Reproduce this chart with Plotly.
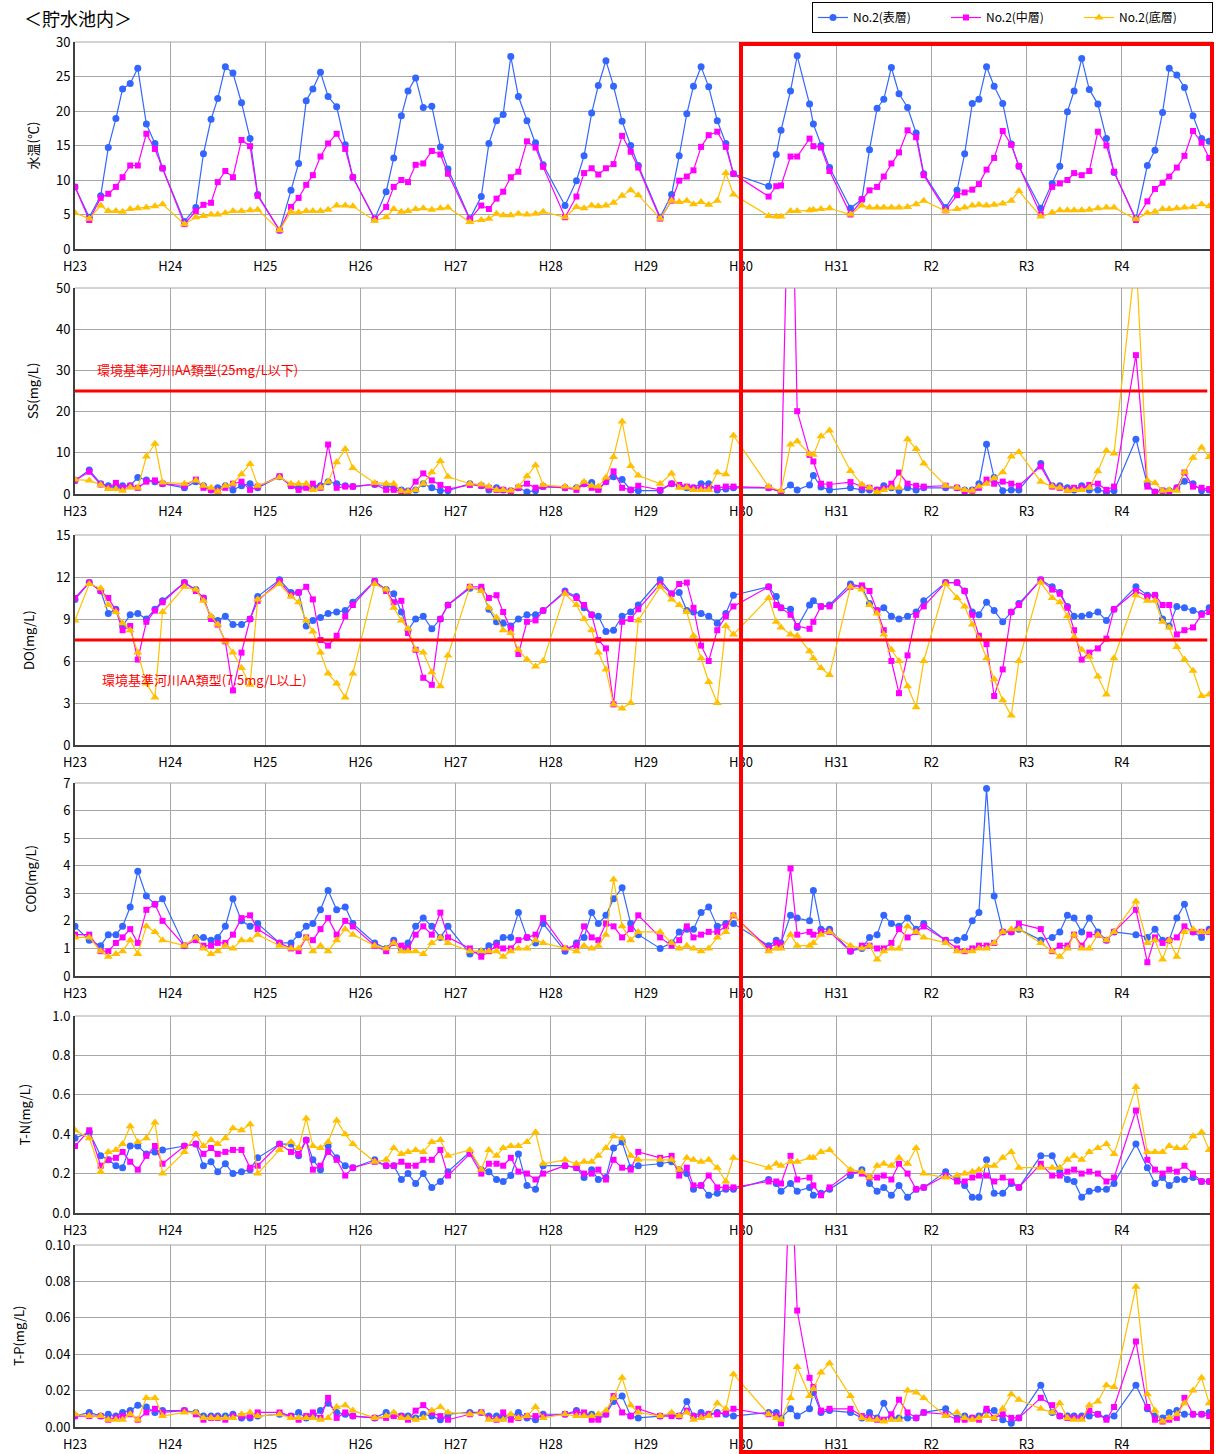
import plotly.graph_objects as go

FONT = "Noto Sans CJK JP"
YEAR_LABELS = ["H23", "H24", "H25", "H26", "H27", "H28", "H29", "H30", "H31", "R2", "R3", "R4"]
FRACS = [0.15, 0.27, 0.35, 0.43, 0.50, 0.58, 0.66, 0.75, 0.84, 0.92]
FRACS_H30 = [0.29, 0.37, 0.42, 0.52, 0.59, 0.66, 0.72, 0.76, 0.84, 0.93]
SERIES_NAMES = ["No.2(表層)", "No.2(中層)", "No.2(底層)"]
N = None

# ---------------- 水温 ----------------
TEMP_S = [9.0,
  4.6, 7.7, 14.7, 18.9, 23.2, 24.0, 26.2, 18.1, 15.3, 11.7,
  4.0, 6.0, 13.8, 18.8, 21.8, 26.4, 25.5, 21.2, 16.0, 7.9,
  2.7, 8.5, 12.4, 21.5, 23.2, 25.6, 22.1, 20.6, 15.1, 10.4,
  4.4, 8.3, 13.2, 19.3, 22.9, 24.8, 20.5, 20.7, 14.8, 11.6,
  4.4, 7.6, 15.3, 18.6, 19.5, 27.9, 22.1, 18.6, 15.4, 12.2,
  6.3, 9.9, 13.5, 19.7, 23.7, 27.3, 23.6, 18.5, 15.0, 12.1,
  4.6, 7.9, 13.5, 19.6, 23.6, 26.4, 23.5, 18.6, 15.3, 10.9,
  9.1, 13.7, 17.2, 22.9, 28.0, N, 21.0, 18.1, 15.0, 11.8,
  5.9, 7.2, 14.4, 20.4, 21.7, 26.3, 22.5, 20.5, 16.8, 10.9,
  6.0, 8.5, 13.8, 21.1, 21.7, 26.4, 23.6, 21.1, 15.2, 12.0,
  5.9, 9.5, 12.0, 19.9, 22.9, 27.6, 23.1, 21.0, 16.0, 11.1,
  4.4, 12.1, 14.3, 19.8, 26.2, 25.2, 23.4, 19.3, 16.0, 15.6]
TEMP_M = [9.0,
  4.2, 7.4, 8.0, 9.0, 10.4, 12.1, 12.1, 16.7, 14.5, 11.7,
  3.6, 5.5, 6.4, 6.7, 9.7, 11.3, 10.4, 15.8, 14.9, 7.7,
  2.7, 6.1, 7.4, 9.3, 10.7, 13.4, 15.3, 16.7, 14.5, 10.4,
  4.3, 6.1, 9.0, 10.0, 9.7, 12.2, 12.4, 14.2, 13.7, 10.9,
  4.3, 6.3, 5.8, 7.3, 8.3, 10.4, 11.2, 15.6, 14.7, 11.9,
  4.6, 7.6, 11.0, 11.7, 10.8, 11.7, 12.3, 16.4, 14.1, 11.8,
  4.4, 7.0, 9.9, 10.5, 11.4, 14.8, 16.5, 17.0, 14.8, 10.9,
  7.6, 9.1, 9.2, 13.4, 13.4, N, 16.0, 14.9, 14.7, 11.3,
  5.0, 7.2, 8.5, 9.0, 10.5, 12.4, 14.0, 17.2, 16.2, 10.7,
  5.6, 7.8, 8.2, 8.6, 9.4, 11.5, 13.2, 17.1, 15.1, 12.0,
  5.0, 9.0, 9.5, 10.0, 11.0, 10.7, 11.3, 17.0, 15.0, 11.2,
  4.2, 6.9, 8.7, 9.6, 10.5, 11.8, 13.5, 17.1, 15.4, 13.2]
TEMP_B = [5.2,
  4.4, 6.3, 5.5, 5.5, 5.4, 5.8, 5.9, 6.0, 6.2, 6.5,
  3.6, 4.6, 4.8, 5.0, 5.0, 5.2, 5.5, 5.5, 5.6, 5.7,
  2.7, 5.4, 5.3, 5.5, 5.5, 5.5, 5.7, 6.3, 6.3, 6.2,
  4.1, 4.6, 5.8, 5.4, 5.5, 5.8, 5.9, 5.7, 5.9, 6.0,
  3.9, 4.2, 4.4, 5.1, 4.9, 4.9, 5.1, 5.0, 5.1, 5.4,
  4.6, 6.1, 5.9, 6.3, 6.2, 6.3, 6.7, 7.7, 8.5, 7.8,
  4.4, 7.0, 6.8, 7.0, 6.5, 6.8, 6.4, 7.0, 11.0, 7.9,
  4.8, 4.7, 4.7, 5.5, 5.5, N, 5.6, 5.7, 5.8, 5.9,
  5.0, 6.3, 6.0, 6.0, 6.0, 6.0, 6.0, 6.1, 6.5, 7.0,
  5.5, 5.8, 6.0, 6.3, 6.4, 6.3, 6.4, 6.6, 7.0, 8.4,
  4.7, 5.3, 5.6, 5.6, 5.6, 5.6, 5.7, 5.9, 6.0, 6.0,
  4.3, 5.2, 5.4, 5.8, 5.8, 5.9, 6.0, 6.1, 6.5, 6.2]

# ---------------- SS ----------------
SS_S = [3.3,
  5.8, 2.5, 2.0, 1.5, 2.0, 2.0, 4.0, 3.4, 3.0, 2.5,
  1.5, 3.0, 2.0, 1.0, 1.5, 2.0, 1.0, 2.0, 2.5, 1.5,
  4.2, 2.0, 1.5, 1.8, 1.5, 2.0, 3.0, 2.5, 2.0, 1.8,
  2.3, 2.0, 1.5, 1.0, 0.7, 1.0, 2.5, 1.5, 0.8, 0.8,
  2.5, 2.0, 1.0, 1.5, 1.0, 0.8, 1.5, 0.5, 0.8, 1.8,
  1.5, 1.5, 2.5, 2.8, 1.2, 3.0, 4.2, 3.5, 1.0, 0.8,
  0.8, 2.5, 2.0, 1.5, 1.5, 2.5, 2.5, 1.0, 1.2, 1.5,
  1.5, N, 0.5, 2.2, 1.0, N, 2.2, 4.5, 1.7, 1.0,
  1.5, 1.0, 1.0, 1.0, 2.0, 1.5, 0.8, 1.5, 1.0, 1.5,
  1.5, 1.5, 1.0, 1.0, 2.5, 12.1, 4.0, 0.8, 1.0, 1.0,
  7.4, 2.0, 2.0, 1.5, 1.0, 2.0, 1.0, 1.0, 0.5, 0.8,
  13.3, 2.3, 0.5, 0.8, 0.8, 1.5, 3.1, 2.5, 0.8, 1.0]
SS_M = [3.3,
  5.4, 2.3, 1.5, 2.7, 1.5, 2.0, 1.5, 3.0, 3.3, 2.5,
  2.0, 3.5, 1.5, 1.0, 0.8, 1.5, 2.5, 3.0, 1.0, 1.8,
  4.3, 2.0, 1.0, 1.5, 2.5, 1.5, 12.0, 1.5, 1.8, 1.8,
  2.4, 1.0, 1.0, 0.6, 0.5, 3.0, 5.0, 3.3, 2.2, 1.2,
  2.2, 2.0, 1.5, 1.0, 1.0, 0.7, 1.5, 2.5, 1.5, 1.8,
  1.5, 1.0, 2.5, 1.5, 1.0, 3.0, 5.5, 1.5, 1.0, 2.0,
  1.0, 2.5, 2.2, 1.8, 1.5, 1.5, 1.5, 1.5, 1.8, 1.8,
  1.5, N, 0.5, 100.0, 20.1, N, 9.5, 7.9, 2.5, 2.3,
  2.9, 1.8, 1.5, 1.0, 1.3, 2.5, 5.2, 2.5, 2.0, 1.8,
  2.0, 1.5, 0.5, 0.8, 1.5, 3.5, 2.5, 3.0, 2.5, 2.0,
  6.7, 1.8, 1.5, 1.0, 1.5, 1.5, 2.2, 2.5, 1.0, 1.8,
  33.7, 1.8, 0.5, 0.8, 0.5, 1.5, 5.2, 1.8, 1.5, 1.2]
SS_B = [3.5,
  3.3, 2.2, 1.2, 1.2, 0.8, 1.6, 1.5, 9.1, 12.2, 2.8,
  2.5, 3.3, 2.0, 1.5, 0.6, 2.0, 2.5, 4.8, 7.3, 2.0,
  4.0, 2.5, 2.5, 2.5, 1.0, 1.5, 3.0, 7.7, 10.9, 6.3,
  2.7, 2.5, 2.5, 0.7, 0.6, 1.0, 2.5, 5.3, 8.0, 4.2,
  2.5, 2.3, 1.8, 1.0, 1.0, 0.8, 1.8, 4.3, 7.0, 2.2,
  1.8, 1.5, 3.0, 2.0, 1.8, 4.0, 9.0, 17.6, 6.8, 4.5,
  2.5, 5.0, 1.5, 1.5, 1.0, 1.0, 1.0, 5.2, 4.8, 14.2,
  1.8, N, 0.8, 12.0, 12.8, N, 9.7, 9.5, 14.0, 15.4,
  5.6, 2.3, 1.5, 0.5, 1.0, 1.5, 1.5, 13.3, 10.9, 7.4,
  2.0, 1.5, 1.0, 0.8, 1.8, 2.5, 3.8, 5.3, 9.1, 10.2,
  3.0, 1.8, 1.5, 0.8, 1.0, 1.0, 1.5, 5.5, 10.5, 9.8,
  58.0, 3.3, 2.7, 0.8, 1.0, 0.8, 5.3, 8.8, 11.3, 9.0]

# ---------------- DO ----------------
DO_S = [10.4,
  11.6, 11.0, 9.4, 9.7, 8.5, 9.3, 9.4, 9.0, 9.7, 10.3,
  11.6, 11.1, 10.5, 9.1, 8.9, 9.2, 8.6, 8.6, 9.0, 10.6,
  11.8, 10.9, 10.9, 8.5, 8.9, 9.1, 9.4, 9.5, 9.6, 10.2,
  11.7, 11.1, 10.8, 9.5, 8.2, 9.0, 9.2, 8.3, 9.0, 10.0,
  11.2, 11.1, 9.7, 8.8, 8.7, 8.5, 9.0, 9.3, 9.3, 9.6,
  11.0, 10.6, 9.8, 9.3, 9.2, 8.1, 8.2, 9.2, 9.5, 10.0,
  11.8, 10.8, 10.9, 9.6, 9.5, 9.4, 9.2, 8.7, 9.4, 10.7,
  11.3, 10.6, 9.8, 9.7, 8.4, N, 10.0, 10.3, 9.9, 10.0,
  11.5, 11.3, 10.1, 9.6, 9.8, 9.2, 9.0, 9.2, 9.5, 10.3,
  11.6, 11.6, 11.0, 9.5, 9.3, 10.2, 9.6, 8.8, 9.5, 10.1,
  11.8, 11.3, 10.9, 9.9, 9.2, 9.2, 9.3, 9.5, 8.9, 9.7,
  11.3, 10.7, 10.7, 9.0, 8.5, 9.9, 9.8, 9.6, 9.4, 9.8]
DO_M = [10.5,
  11.6, 11.0, 10.5, 9.6, 8.2, 8.5, 6.1, 8.8, 9.6, 10.2,
  11.6, 11.0, 10.5, 9.0, 8.6, 7.4, 3.9, 6.6, 9.0, 10.3,
  11.7, 10.7, 10.9, 11.3, 10.4, 7.5, 7.1, 7.8, 9.2, 10.0,
  11.7, 11.0, 10.2, 10.3, 8.0, 6.8, 4.8, 4.3, 9.0, 10.0,
  11.3, 11.3, 10.5, 10.7, 9.5, 8.3, 6.5, 8.8, 8.9, 9.6,
  10.9, 10.5, 10.0, 9.3, 7.5, 6.9, 2.9, 8.8, 9.0, 9.7,
  11.5, 10.8, 11.5, 11.6, 9.8, 7.1, 6.0, 8.2, 9.2, 9.9,
  11.3, 10.0, 9.8, 9.3, 8.5, N, 8.3, 8.8, 9.9, 9.9,
  11.3, 11.4, 11.0, 9.6, 8.2, 6.0, 3.7, 6.4, 9.3, 9.9,
  11.6, 11.6, 11.0, 9.3, 7.8, 7.2, 3.5, 5.4, 9.5, 10.0,
  11.8, 11.1, 10.8, 9.8, 8.2, 6.1, 6.6, 6.9, 7.6, 9.7,
  11.0, 10.6, 10.7, 10.0, 10.0, 7.9, 8.2, 8.4, 9.3, 9.5]
DO_B = [8.9,
  11.5, 11.2, 10.0, 9.5, 8.7, 8.2, 6.6, 4.4, 3.4, 9.5,
  11.3, 11.1, 10.3, 9.2, 8.6, 7.4, 6.6, 5.5, 4.3, 10.4,
  11.5, 10.6, 10.2, 8.9, 8.1, 6.6, 5.1, 4.4, 3.4, 5.1,
  11.5, 11.1, 9.8, 8.9, 8.3, 6.8, 6.6, 5.2, 4.2, 6.4,
  11.3, 11.0, 9.8, 9.1, 8.2, 8.0, 6.8, 6.1, 5.6, 6.0,
  10.8, 10.0, 9.0, 8.2, 6.6, 5.4, 2.9, 2.6, 3.0, 8.9,
  11.3, 10.4, 10.0, 9.5, 7.8, 6.2, 4.5, 3.0, 8.5, 7.9,
  10.5, 8.8, 8.4, 7.9, 7.8, N, 6.7, 6.2, 5.5, 5.0,
  11.3, 11.1, 10.0, 9.4, 7.9, 6.8, 6.0, 4.2, 2.7, 6.0,
  11.5, 10.5, 9.9, 8.6, 7.6, 6.2, 4.7, 3.2, 2.1, 6.0,
  11.6, 10.5, 10.2, 9.2, 7.7, 6.8, 6.3, 4.9, 3.6, 6.2,
  10.7, 10.3, 10.3, 8.8, 8.4, 7.0, 6.1, 5.3, 3.5, 3.6]

# ---------------- COD ----------------
COD_S = [1.8,
  1.3, 1.1, 1.5, 1.5, 1.8, 2.5, 3.8, 2.9, 2.6, 2.8,
  1.1, 1.4, 1.4, 1.3, 1.4, 1.8, 2.8, 2.0, 1.8, 1.9,
  1.2, 1.2, 1.5, 1.8, 1.9, 2.4, 3.1, 2.4, 2.5, 1.9,
  1.2, 1.0, 1.3, 1.0, 1.2, 1.8, 2.1, 1.8, 1.4, 1.8,
  0.8, 0.9, 1.1, 1.2, 1.4, 1.4, 2.3, 1.4, 1.2, 1.9,
  0.9, 1.2, 1.4, 2.3, 1.9, 2.2, 2.8, 3.2, 1.9, 1.5,
  1.0, 1.2, 1.6, 1.7, 1.7, 2.3, 2.5, 1.8, 1.9, 1.9,
  1.1, 1.3, 1.2, 2.2, 2.1, N, 2.0, 3.1, 1.7, 1.7,
  0.9, 1.0, 1.4, 1.5, 2.2, 1.9, 1.8, 2.1, 1.7, 1.9,
  1.3, 1.3, 1.4, 2.0, 2.3, 6.8, 2.9, 1.6, 1.6, 1.7,
  1.3, 1.4, 1.6, 2.2, 2.1, 1.6, 2.1, 1.6, 1.3, 1.6,
  1.5, 1.4, 1.7, 1.3, 1.3, 2.1, 2.6, 1.6, 1.4, 1.7]
COD_M = [1.5,
  1.5, 0.9, 0.9, 1.2, 1.4, 1.7, 1.2, 2.4, 2.6, 2.0,
  1.1, 1.3, 1.1, 1.1, 1.2, 1.2, 1.5, 2.1, 2.2, 1.7,
  1.2, 1.0, 0.9, 1.4, 1.3, 1.7, 2.1, 1.5, 2.0, 1.8,
  1.1, 0.9, 1.2, 1.1, 1.0, 1.5, 1.8, 1.5, 2.3, 1.4,
  1.0, 0.7, 0.9, 1.1, 1.0, 1.0, 1.3, 1.4, 1.5, 2.1,
  1.0, 1.1, 1.8, 1.4, 1.3, 1.9, 1.8, 1.4, 1.7, 2.2,
  1.4, 1.1, 1.3, 1.8, 1.4, 1.5, 1.6, 1.6, 1.8, 2.2,
  1.0, 1.2, 1.1, 3.9, 1.5, N, 1.6, 1.5, 1.6, 1.6,
  0.9, 1.1, 1.1, 1.0, 1.0, 1.2, 1.7, 1.4, 1.6, 1.8,
  1.3, 1.0, 0.9, 1.0, 1.1, 1.1, 1.2, 1.6, 1.6, 1.9,
  1.7, 0.9, 1.1, 1.1, 1.5, 1.1, 1.5, 1.5, 1.3, 1.6,
  2.4, 0.5, 1.4, 1.2, 1.3, 1.4, 1.8, 1.6, 1.6, 1.6]
COD_B = [1.4,
  1.4, 0.9, 0.7, 0.8, 0.9, 1.3, 0.8, 1.8, 1.6, 1.3,
  1.1, 1.4, 1.0, 0.8, 0.9, 1.1, 1.0, 1.3, 1.3, 1.5,
  1.1, 1.0, 1.0, 1.4, 0.9, 1.1, 0.9, 1.3, 1.7, 1.5,
  1.1, 1.0, 1.2, 0.9, 0.9, 0.9, 0.8, 1.2, 1.4, 1.2,
  0.9, 0.9, 0.9, 0.9, 0.7, 0.9, 1.0, 1.0, 1.3, 1.2,
  1.0, 0.9, 1.1, 1.0, 1.1, 1.5, 3.5, 1.8, 1.3, 1.6,
  1.6, 1.2, 1.0, 1.1, 1.0, 0.9, 1.0, 1.4, 1.6, 2.2,
  0.9, 1.0, 1.0, 1.5, 1.1, N, 1.1, 1.2, 1.5, 1.6,
  1.1, 1.0, 1.1, 0.6, 0.9, 1.0, 1.0, 1.8, 1.6, 1.4,
  1.2, 0.9, 0.9, 0.9, 1.0, 1.0, 1.2, 1.6, 1.7, 1.7,
  1.2, 0.9, 0.7, 1.0, 1.5, 1.0, 1.0, 1.5, 1.3, 1.6,
  2.7, 1.2, 1.3, 0.6, 1.3, 0.7, 1.6, 1.7, 1.6, 1.6]

# ---------------- T-N ----------------
TN_S = [0.38,
  0.41, 0.29, 0.27, 0.24, 0.23, 0.34, 0.34, 0.30, 0.31, 0.32,
  0.34, 0.35, 0.24, 0.26, 0.21, 0.25, 0.20, 0.21, 0.22, 0.28,
  0.35, 0.35, 0.29, 0.37, 0.27, 0.22, 0.34, 0.28, 0.24, 0.23,
  0.27, 0.24, 0.24, 0.17, 0.20, 0.15, 0.20, 0.13, 0.16, 0.21,
  0.31, 0.22, 0.21, 0.17, 0.16, 0.19, 0.30, 0.14, 0.12, 0.24,
  0.24, 0.23, 0.18, 0.22, 0.17, 0.18, 0.33, 0.36, 0.23, 0.24,
  0.25, 0.26, 0.22, 0.20, 0.12, 0.14, 0.09, 0.10, 0.12, 0.12,
  0.17, 0.15, 0.11, 0.15, 0.11, N, 0.13, 0.09, 0.10, 0.12,
  0.19, 0.22, 0.15, 0.11, 0.13, 0.09, 0.14, 0.08, 0.12, 0.13,
  0.21, 0.17, 0.14, 0.08, 0.08, 0.27, 0.10, 0.10, 0.15, 0.13,
  0.29, 0.29, 0.21, 0.17, 0.16, 0.08, 0.11, 0.12, 0.12, 0.15,
  0.35, 0.23, 0.15, 0.18, 0.14, 0.17, 0.17, 0.18, 0.16, 0.16]
TN_M = [0.34,
  0.42, 0.24, 0.27, 0.28, 0.31, 0.26, 0.22, 0.29, 0.34, 0.25,
  0.34, 0.35, 0.30, 0.33, 0.30, 0.31, 0.32, 0.32, 0.23, 0.24,
  0.35, 0.31, 0.30, 0.37, 0.22, 0.24, 0.31, 0.27, 0.19, 0.23,
  0.26, 0.24, 0.24, 0.26, 0.24, 0.24, 0.27, 0.27, 0.32, 0.19,
  0.30, 0.20, 0.25, 0.25, 0.24, 0.28, 0.21, 0.20, 0.17, 0.20,
  0.24, 0.23, 0.20, 0.20, 0.22, 0.17, 0.27, 0.23, 0.22, 0.31,
  0.28, 0.29, 0.19, 0.23, 0.14, 0.14, 0.19, 0.13, 0.13, 0.13,
  0.16, 0.16, 0.15, 0.29, 0.17, N, 0.18, 0.14, 0.09, 0.13,
  0.21, 0.20, 0.18, 0.18, 0.19, 0.17, 0.25, 0.20, 0.12, 0.13,
  0.19, 0.16, 0.16, 0.18, 0.19, 0.19, 0.16, 0.18, 0.16, 0.13,
  0.25, 0.19, 0.19, 0.21, 0.22, 0.20, 0.21, 0.20, 0.16, 0.18,
  0.52, 0.27, 0.22, 0.20, 0.22, 0.21, 0.24, 0.20, 0.16, 0.16]
TN_B = [0.42,
  0.38, 0.21, 0.31, 0.32, 0.35, 0.44, 0.36, 0.38, 0.46, 0.20,
  0.31, 0.40, 0.34, 0.37, 0.35, 0.38, 0.43, 0.42, 0.45, 0.20,
  0.32, 0.36, 0.33, 0.48, 0.34, 0.33, 0.36, 0.47, 0.40, 0.35,
  0.26, 0.27, 0.33, 0.30, 0.31, 0.32, 0.31, 0.36, 0.37, 0.29,
  0.32, 0.22, 0.32, 0.29, 0.33, 0.34, 0.34, 0.36, 0.41, 0.25,
  0.27, 0.25, 0.26, 0.26, 0.29, 0.33, 0.39, 0.38, 0.29, 0.27,
  0.27, 0.27, 0.22, 0.28, 0.27, 0.26, 0.27, 0.23, 0.16, 0.28,
  0.23, 0.25, 0.24, 0.26, 0.26, N, 0.28, 0.28, 0.31, 0.32,
  0.22, 0.21, 0.18, 0.24, 0.25, 0.24, 0.28, 0.25, 0.33, 0.20,
  0.18, 0.19, 0.20, 0.21, 0.22, 0.24, 0.24, 0.28, 0.31, 0.23,
  0.23, 0.23, 0.23, 0.27, 0.29, 0.27, 0.31, 0.33, 0.35, 0.30,
  0.64, 0.31, 0.31, 0.31, 0.34, 0.33, 0.33, 0.39, 0.41, 0.32]

# ---------------- T-P ----------------
TP_S = [0.006,
  0.008, 0.006, 0.007, 0.006, 0.008, 0.009, 0.012, 0.011, 0.008, 0.009,
  0.009, 0.008, 0.006, 0.006, 0.006, 0.006, 0.007, 0.005, 0.005, 0.006,
  0.007, 0.006, 0.008, 0.005, 0.006, 0.009, 0.013, 0.008, 0.007, 0.006,
  0.005, 0.008, 0.007, 0.006, 0.006, 0.005, 0.007, 0.006, 0.004, 0.007,
  0.008, 0.008, 0.006, 0.006, 0.005, 0.006, 0.008, 0.005, 0.004, 0.007,
  0.007, 0.009, 0.007, 0.007, 0.006, 0.007, 0.014, 0.017, 0.006, 0.005,
  0.006, 0.007, 0.006, 0.014, 0.006, 0.008, 0.007, 0.008, 0.007, 0.006,
  0.008, 0.008, 0.005, 0.010, 0.006, N, 0.010, 0.019, 0.008, 0.009,
  0.008, 0.005, 0.008, 0.005, 0.013, 0.005, 0.005, 0.005, 0.005, 0.008,
  0.010, 0.005, 0.006, 0.005, 0.006, 0.009, 0.009, 0.004, 0.002, 0.005,
  0.023, 0.008, 0.006, 0.006, 0.006, 0.006, 0.006, 0.007, 0.005, 0.006,
  0.023, 0.010, 0.006, 0.005, 0.008, 0.009, 0.007, 0.007, 0.007, 0.008]
TP_M = [0.006,
  0.006, 0.006, 0.004, 0.005, 0.006, 0.007, 0.004, 0.008, 0.010, 0.008,
  0.009, 0.007, 0.004, 0.005, 0.005, 0.004, 0.006, 0.006, 0.006, 0.008,
  0.008, 0.006, 0.004, 0.006, 0.008, 0.005, 0.016, 0.005, 0.008, 0.006,
  0.005, 0.005, 0.006, 0.006, 0.004, 0.009, 0.012, 0.008, 0.006, 0.004,
  0.007, 0.008, 0.005, 0.004, 0.008, 0.004, 0.005, 0.006, 0.006, 0.006,
  0.007, 0.008, 0.008, 0.004, 0.004, 0.007, 0.017, 0.008, 0.006, 0.010,
  0.006, 0.006, 0.006, 0.009, 0.006, 0.006, 0.007, 0.007, 0.008, 0.010,
  0.007, 0.006, 0.002, 0.150, 0.064, N, 0.027, 0.022, 0.009, 0.010,
  0.010, 0.006, 0.005, 0.004, 0.004, 0.007, 0.015, 0.008, 0.005, 0.008,
  0.007, 0.004, 0.004, 0.005, 0.004, 0.010, 0.005, 0.007, 0.005, 0.005,
  0.016, 0.012, 0.006, 0.005, 0.005, 0.005, 0.009, 0.007, 0.004, 0.011,
  0.047, 0.011, 0.004, 0.003, 0.004, 0.005, 0.016, 0.007, 0.007, 0.006]
TP_B = [0.007,
  0.006, 0.006, 0.004, 0.004, 0.004, 0.007, 0.004, 0.016, 0.016, 0.006,
  0.008, 0.008, 0.005, 0.005, 0.005, 0.005, 0.005, 0.007, 0.008, 0.006,
  0.007, 0.005, 0.005, 0.005, 0.005, 0.004, 0.005, 0.011, 0.012, 0.009,
  0.005, 0.006, 0.008, 0.005, 0.005, 0.004, 0.005, 0.009, 0.011, 0.008,
  0.007, 0.008, 0.004, 0.004, 0.004, 0.007, 0.005, 0.006, 0.011, 0.005,
  0.007, 0.006, 0.006, 0.006, 0.007, 0.009, 0.016, 0.027, 0.012, 0.008,
  0.006, 0.008, 0.006, 0.008, 0.004, 0.005, 0.006, 0.013, 0.010, 0.029,
  0.007, 0.005, 0.004, 0.016, 0.033, N, 0.017, 0.021, 0.030, 0.035,
  0.017, 0.005, 0.004, 0.004, 0.003, 0.004, 0.004, 0.020, 0.019, 0.016,
  0.006, 0.008, 0.005, 0.004, 0.005, 0.006, 0.005, 0.010, 0.018, 0.015,
  0.010, 0.008, 0.013, 0.005, 0.004, 0.004, 0.012, 0.014, 0.023, 0.022,
  0.077, 0.018, 0.009, 0.003, 0.005, 0.007, 0.013, 0.020, 0.027, 0.013]

# time axis (years since H23)
T = [0.0]
for yi in range(len(YEAR_LABELS)):
    fr = FRACS_H30 if YEAR_LABELS[yi] == "H30" else FRACS
    T += [yi + f for f in fr]

PANELS = [
    ("水温(℃)", [TEMP_S, TEMP_M, TEMP_B], [0, 30], 5, None),
    ("SS(mg/L)", [SS_S, SS_M, SS_B], [0, 50], 10, None),
    ("DO(mg/L)", [DO_S, DO_M, DO_B], [0, 15], 3, None),
    ("COD(mg/L)", [COD_S, COD_M, COD_B], [0, 7], 1, None),
    ("T-N(mg/L)", [TN_S, TN_M, TN_B], [0, 1.0], 0.2, ".1f"),
    ("T-P(mg/L)", [TP_S, TP_M, TP_B], [0, 0.10], 0.02, ".2f"),
]
STD_LINES = {1: (25, "環境基準河川AA類型(25mg/L以下)", 30.1),
             2: (7.5, "環境基準河川AA類型(7.5mg/L以上)", 4.7)}

W, H = 1216, 1454
ML, MR = 75, 3
PW = W - ML - MR
# panel top/bottom pixel positions
PANEL_PX = [(42, 249), (288, 494), (535, 745), (783, 976), (1016, 1213), (1245, 1427)]
TITLE_X = [32, 32, 28, 30, 24, 18]

COLORS = ["#3366FF", "#FF00FF", "#FFC000"]
SYMBOLS = ["circle", "square", "triangle-up"]
SIZES = [7, 6, 8]

fig = go.Figure()
layout = dict(
    width=W, height=H,
    margin=dict(l=ML, r=MR, t=0, b=0, autoexpand=False),
    paper_bgcolor="white", plot_bgcolor="white",
    font=dict(family=FONT, size=13, color="black"),
    showlegend=True,
)
annotations = []
shapes = []
for i, (ttl, series, yr, dt, fmt) in enumerate(PANELS):
    k = "" if i == 0 else str(i + 1)
    top, bot = PANEL_PX[i]
    dom = [1 - bot / H, 1 - top / H]
    for j in range(3):
        fig.add_trace(go.Scatter(
            x=T, y=series[j], name=SERIES_NAMES[j], mode="lines+markers",
            connectgaps=True, showlegend=(i == 0),
            line=dict(color=COLORS[j], width=1.2),
            marker=dict(color=COLORS[j], symbol=SYMBOLS[j], size=SIZES[j]),
            xaxis="x" + k, yaxis="y" + k))
    layout["xaxis" + k] = dict(
        domain=[0, 1], anchor="y" + k, range=[0, 11.96], automargin=False,
        tickvals=list(range(len(YEAR_LABELS))), ticktext=YEAR_LABELS,
        showgrid=True, gridcolor="#a6a6a6", gridwidth=1,
        showline=True, linecolor="#404040", linewidth=2, zeroline=False,
        ticks="outside", ticklen=4, tickcolor="rgba(0,0,0,0)",
        tickfont=dict(size=13, family=FONT))
    ya = dict(
        domain=dom, anchor="x" + k, range=yr, dtick=dt, tick0=0, automargin=False,
        showgrid=True, gridcolor="#a6a6a6", gridwidth=1,
        showline=True, linecolor="#404040", linewidth=2, zeroline=False,
        ticks="", tickfont=dict(size=13, family=FONT))
    if fmt:
        ya["tickformat"] = fmt
    layout["yaxis" + k] = ya
    # top border line of each panel
    shapes.append(dict(type="line", xref="x" + k + " domain", yref="y" + k + " domain",
                       x0=0, x1=1, y0=1, y1=1, line=dict(color="#a6a6a6", width=1)))
    annotations.append(dict(
        text=ttl, xref="paper", yref="paper",
        x=(TITLE_X[i] - ML) / PW, y=(dom[0] + dom[1]) / 2,
        textangle=-90, showarrow=False, xanchor="center", yanchor="middle",
        font=dict(size=13, family=FONT)))
    if i in STD_LINES:
        yv, label, ly = STD_LINES[i]
        shapes.append(dict(type="line", xref="x" + k + " domain", yref="y" + k,
                           x0=0, x1=0.995, y0=yv, y1=yv,
                           line=dict(color="#FF0000", width=3)))
        annotations.append(dict(text=label, xref="x" + k, yref="y" + k,
                                x=0.21 if i == 1 else 0.26, y=ly,
                                showarrow=False, xanchor="left", yanchor="middle",
                                font=dict(size=13, color="#FF0000", family=FONT)))

# red rectangle highlighting H30 onwards
shapes.append(dict(type="rect", xref="paper", yref="paper", layer="above",
                   x0=(741 - ML) / PW, x1=(1212 - ML) / PW,
                   y0=1 - 1452 / H, y1=1 - 44 / H,
                   line=dict(color="#FF0000", width=4), fillcolor="rgba(0,0,0,0)"))

annotations.append(dict(text="＜貯水池内＞", xref="paper", yref="paper",
                        x=(22 - ML) / PW, y=1 - 18 / H, xanchor="left", yanchor="middle",
                        showarrow=False, font=dict(size=18, family=FONT)))

layout["annotations"] = annotations
layout["shapes"] = shapes
layout["legend"] = dict(orientation="h", x=1.0, xanchor="right", y=1 - 2 / H, yanchor="top",
                        bordercolor="black", borderwidth=1, bgcolor="white",
                        font=dict(size=12, family=FONT), itemwidth=30,
                        entrywidth=88, entrywidthmode="pixels",
                        tracegroupgap=0)
fig.update_layout(**layout)
fig.write_html("out.html")
